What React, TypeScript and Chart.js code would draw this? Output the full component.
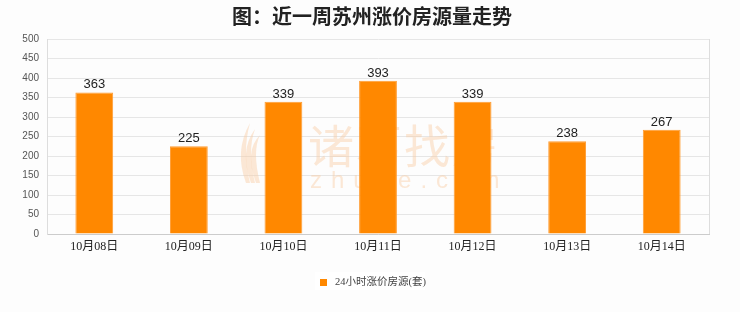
import { useEffect, useRef } from 'react';
import { Chart, registerables } from 'chart.js';

Chart.register(...registerables);

const TITLE = '图：近一周苏州涨价房源量走势';
const SERIES_NAME = '24小时涨价房源(套)';
const CATEGORIES = ['10月08日', '10月09日', '10月10日', '10月11日', '10月12日', '10月13日', '10月14日'];
const VALUES = [363, 225, 339, 393, 339, 238, 267];
const Y_MIN = 0;
const Y_MAX = 500;
const Y_STEP = 50;
const WATERMARK_CN = '诸葛找房';
const WATERMARK_EN = 'zhuge.com';

const BAR_COLOR = '#ff8800';
const CJK = "'Noto Sans CJK SC'";

// background, title, watermark, value labels, plot frame and legend
const decorations = {
  id: 'decorations',
  beforeDraw(chart: Chart) {
    const { ctx, width } = chart;
    ctx.save();
    ctx.fillStyle = '#fdfdfd';
    ctx.fillRect(0, 0, width, chart.height);
    ctx.fillStyle = '#222';
    ctx.font = `bold 20px ${CJK}`;
    ctx.textAlign = 'center';
    ctx.textBaseline = 'middle';
    ctx.fillText(TITLE, width / 2 + 2, 16);
    ctx.restore();
  },
  beforeDatasetsDraw(chart: Chart) {
    const { ctx } = chart;
    ctx.save();
    // leaf mark
    ctx.fillStyle = 'rgba(248,204,164,0.45)';
    const lx = 246, ly = 183;
    for (let i = 0; i < 3; i++) {
      const ox = lx + i * 5;
      ctx.beginPath();
      ctx.moveTo(ox, ly);
      ctx.quadraticCurveTo(ox - 12, ly - 32, ox + 4, ly - 60 + i * 6);
      ctx.quadraticCurveTo(ox - 4, ly - 32, ox + 4, ly);
      ctx.closePath();
      ctx.fill();
    }
    ctx.font = `46px ${CJK}`;
    ctx.textAlign = 'left';
    ctx.textBaseline = 'middle';
    (ctx as any).letterSpacing = '2px';
    ctx.fillText(WATERMARK_CN, 308, 146);
    ctx.font = "24px 'Liberation Sans'";
    (ctx as any).letterSpacing = '9px';
    ctx.fillText(WATERMARK_EN, 310, 181);
    ctx.restore();
  },
  afterDatasetsDraw(chart: Chart) {
    const { ctx } = chart;
    const meta = chart.getDatasetMeta(0);
    ctx.save();
    ctx.fillStyle = '#222';
    ctx.font = "13px 'Liberation Sans'";
    ctx.textAlign = 'center';
    ctx.textBaseline = 'alphabetic';
    meta.data.forEach((bar: any, i: number) => {
      ctx.fillText(String(VALUES[i]), bar.x, bar.y - 4);
    });
    // right frame edge
    const a = chart.chartArea;
    ctx.strokeStyle = '#dddddd';
    ctx.lineWidth = 1;
    ctx.beginPath();
    ctx.moveTo(Math.round(a.right) + 0.5, a.top);
    ctx.lineTo(Math.round(a.right) + 0.5, a.bottom);
    ctx.stroke();
    ctx.restore();
  },
  afterDraw(chart: Chart) {
    const { ctx } = chart;
    ctx.save();
    ctx.fillStyle = '#ffffff';
    ctx.fillRect(315, 272, 110, 18);
    ctx.fillStyle = BAR_COLOR;
    ctx.fillRect(320, 279, 7, 7);
    ctx.fillStyle = '#444';
    ctx.font = `10.5px 'Liberation Serif', ${CJK}`;
    ctx.textAlign = 'left';
    ctx.textBaseline = 'middle';
    ctx.fillText(chart.data.datasets[0].label as string, 335, 282);
    ctx.restore();
  },
};

export default function App() {
  const ref = useRef<HTMLCanvasElement>(null);

  useEffect(() => {
    document.body.style.margin = '0';
    const chart = new Chart(ref.current!, {
      type: 'bar',
      data: {
        labels: CATEGORIES,
        datasets: [
          {
            label: SERIES_NAME,
            data: VALUES,
            backgroundColor: BAR_COLOR,
            borderColor: '#ff9d33',
            borderWidth: 1,
            categoryPercentage: 1,
            barPercentage: 0.4,
          },
        ],
      },
      options: {
        responsive: false,
        animation: false,
        layout: { padding: { top: 39, right: 31, left: 0, bottom: 0 } },
        plugins: {
          legend: { display: false },
          title: { display: false },
          tooltip: { enabled: false },
        },
        scales: {
          x: {
            grid: { display: false, drawTicks: false },
            border: { display: true, color: '#cccccc' },
            ticks: {
              padding: 6,
              color: '#222',
              font: { family: `'Liberation Serif', ${CJK}`, size: 12 },
            },
            afterFit(scale: any) {
              scale.height = 78;
            },
          },
          y: {
            min: Y_MIN,
            max: Y_MAX,
            ticks: {
              stepSize: Y_STEP,
              padding: 8,
              color: '#555',
              font: { family: "'Liberation Sans'", size: 10 },
            },
            grid: { color: '#e6e6e6', drawTicks: false },
            border: { display: true, color: '#dddddd' },
            afterFit(scale: any) {
              scale.width = 47;
            },
          },
        },
      },
      plugins: [decorations],
    });
    return () => chart.destroy();
  }, []);

  return <canvas ref={ref} width={740} height={312} style={{ display: 'block' }} />;
}
